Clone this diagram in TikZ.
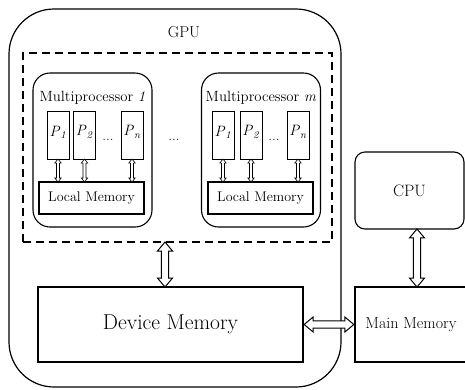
\documentclass[tikz,border=0pt]{standalone}
\usetikzlibrary{calc}
\begin{document}
\begin{tikzpicture}[x=1pt,y=-1pt,
  box/.style={draw,line width=1.1pt,inner sep=0pt},
  pbox/.style={draw,line width=0.8pt,inner sep=0pt,minimum width=22pt,minimum height=48pt},
  lmbox/.style={draw,line width=1.6pt,inner sep=0pt,minimum width=105pt,minimum height=32pt,font=\fontsize{14}{16}\selectfont},
  mpbox/.style={draw,line width=1.1pt,rounded corners=17pt,inner sep=0pt,minimum width=119pt,minimum height=154pt},
  dblarrow/.style n args={3}{draw,fill=white,line width=#3,line join=miter,
    to path={
      -- ($(\tikztostart)!9pt*#1!(\tikztotarget)!#2!90:(\tikztotarget)$)
      -- ($(\tikztostart)!9pt*#1!(\tikztotarget)!0.47*#2!90:(\tikztotarget)$)
      -- ($(\tikztotarget)!9pt*#1!(\tikztostart)!0.47*#2!-90:(\tikztostart)$)
      -- ($(\tikztotarget)!9pt*#1!(\tikztostart)!#2!-90:(\tikztostart)$)
      -- (\tikztotarget)
      -- ($(\tikztotarget)!9pt*#1!(\tikztostart)!#2!90:(\tikztostart)$)
      -- ($(\tikztotarget)!9pt*#1!(\tikztostart)!0.47*#2!90:(\tikztostart)$)
      -- ($(\tikztostart)!9pt*#1!(\tikztotarget)!0.47*#2!-90:(\tikztotarget)$)
      -- ($(\tikztostart)!9pt*#1!(\tikztotarget)!#2!-90:(\tikztotarget)$)
      -- cycle
    }},
  bigarrow/.style={dblarrow={1}{7.5pt}{1pt}},
  smallarrow/.style={dblarrow={0.45}{3.2pt}{0.6pt}},
  plabel/.style={font=\fontsize{15}{16}\selectfont},
  mplabel/.style={font=\fontsize{14.8}{16}\selectfont},
]
\useasboundingbox (0,0) rectangle (465,389);
\clip (0,0) rectangle (465,389);

% GPU outer
\node[draw,line width=1.2pt,rounded corners=45pt,minimum width=332pt,minimum height=378pt,inner sep=0pt] (gpu) at (175,198) {};
\node[font=\fontsize{15.8}{18}\selectfont] (gpulbl) at (184,32) {GPU};

% dashed cluster
\node[draw,line width=1.6pt,dash pattern=on 8pt off 5pt,minimum width=309pt,minimum height=189pt,inner sep=0pt] (cluster) at (177.5,147.5) {};

% Multiprocessor 1
\node[mpbox] (mp1) at (92.5,150) {};
\node[mplabel] (mp1lbl) at (92.5,98) {Multiprocessor \textit{1}};
\node[pbox] (p11) at (58,135) {};
\node[plabel] at ([yshift=3pt]p11.center) {\textit{P}\textsubscript{\textit{1}}};
\node[pbox] (p12) at (84.5,135) {};
\node[plabel] at ([yshift=3pt]p12.center) {\textit{P}\textsubscript{\textit{2}}};
\node[pbox] (p1n) at (132,135) {};
\node[plabel] at ([yshift=3pt]p1n.center) {\textit{P}\textsubscript{\textit{n}}};
\node[plabel] (d1) at (108,140) {...};
\node[lmbox] (lm1) at (91.5,198) {Local Memory};

% Multiprocessor m
\node[mpbox] (mpm) at (261,150) {};
\node[mplabel] (mpmlbl) at (261,98) {Multiprocessor \textit{m}};
\node[pbox] (pm1) at (223,135) {};
\node[plabel] at ([yshift=3pt]pm1.center) {\textit{P}\textsubscript{\textit{1}}};
\node[pbox] (pm2) at (251,135) {};
\node[plabel] at ([yshift=3pt]pm2.center) {\textit{P}\textsubscript{\textit{2}}};
\node[pbox] (pmn) at (298,135) {};
\node[plabel] at ([yshift=3pt]pmn.center) {\textit{P}\textsubscript{\textit{n}}};
\node[plabel] (dm) at (274,140) {...};
\node[lmbox] (lmm) at (260.5,198) {Local Memory};

\node[plabel] (dmid) at (174,140) {...};

% small arrows
\foreach \p/\l in {p11/lm1,p12/lm1,p1n/lm1,pm1/lmm,pm2/lmm,pmn/lmm}{
  \path[smallarrow] ([yshift=0.4pt]\p.south) to ([yshift=-0.8pt]\p.south |- \l.north);
}

% Device memory
\node[box,minimum width=265pt,minimum height=75pt,font=\fontsize{21.5}{24}\selectfont] (dev) at (170.5,324.5) {Device Memory};
% Main memory
\node[box,minimum width=115pt,minimum height=75pt] (mainm) at (412.5,324.5) {};
\node[font=\fontsize{16}{18}\selectfont] (mainlbl) at (411,325) {Main Memory};
% CPU
\node[box,rounded corners=10pt,minimum width=109pt,minimum height=77pt,font=\fontsize{16.5}{18}\selectfont] (cpu) at (409.5,190.5) {CPU};

% big arrows
\path[bigarrow] ([xshift=-5.5pt,yshift=0.8pt]dev.north |- cluster.south) to ([xshift=-5.5pt,yshift=-0.6pt]dev.north);
\path[bigarrow] ([xshift=0.6pt]dev.east) to ([xshift=-0.6pt]mainm.west);
\coordinate (cpuarr) at (417,229);
\path[bigarrow] ([yshift=0.6pt]cpuarr |- cpu.south) to ([yshift=-0.6pt]cpuarr |- mainm.north);
\end{tikzpicture}
\end{document}
